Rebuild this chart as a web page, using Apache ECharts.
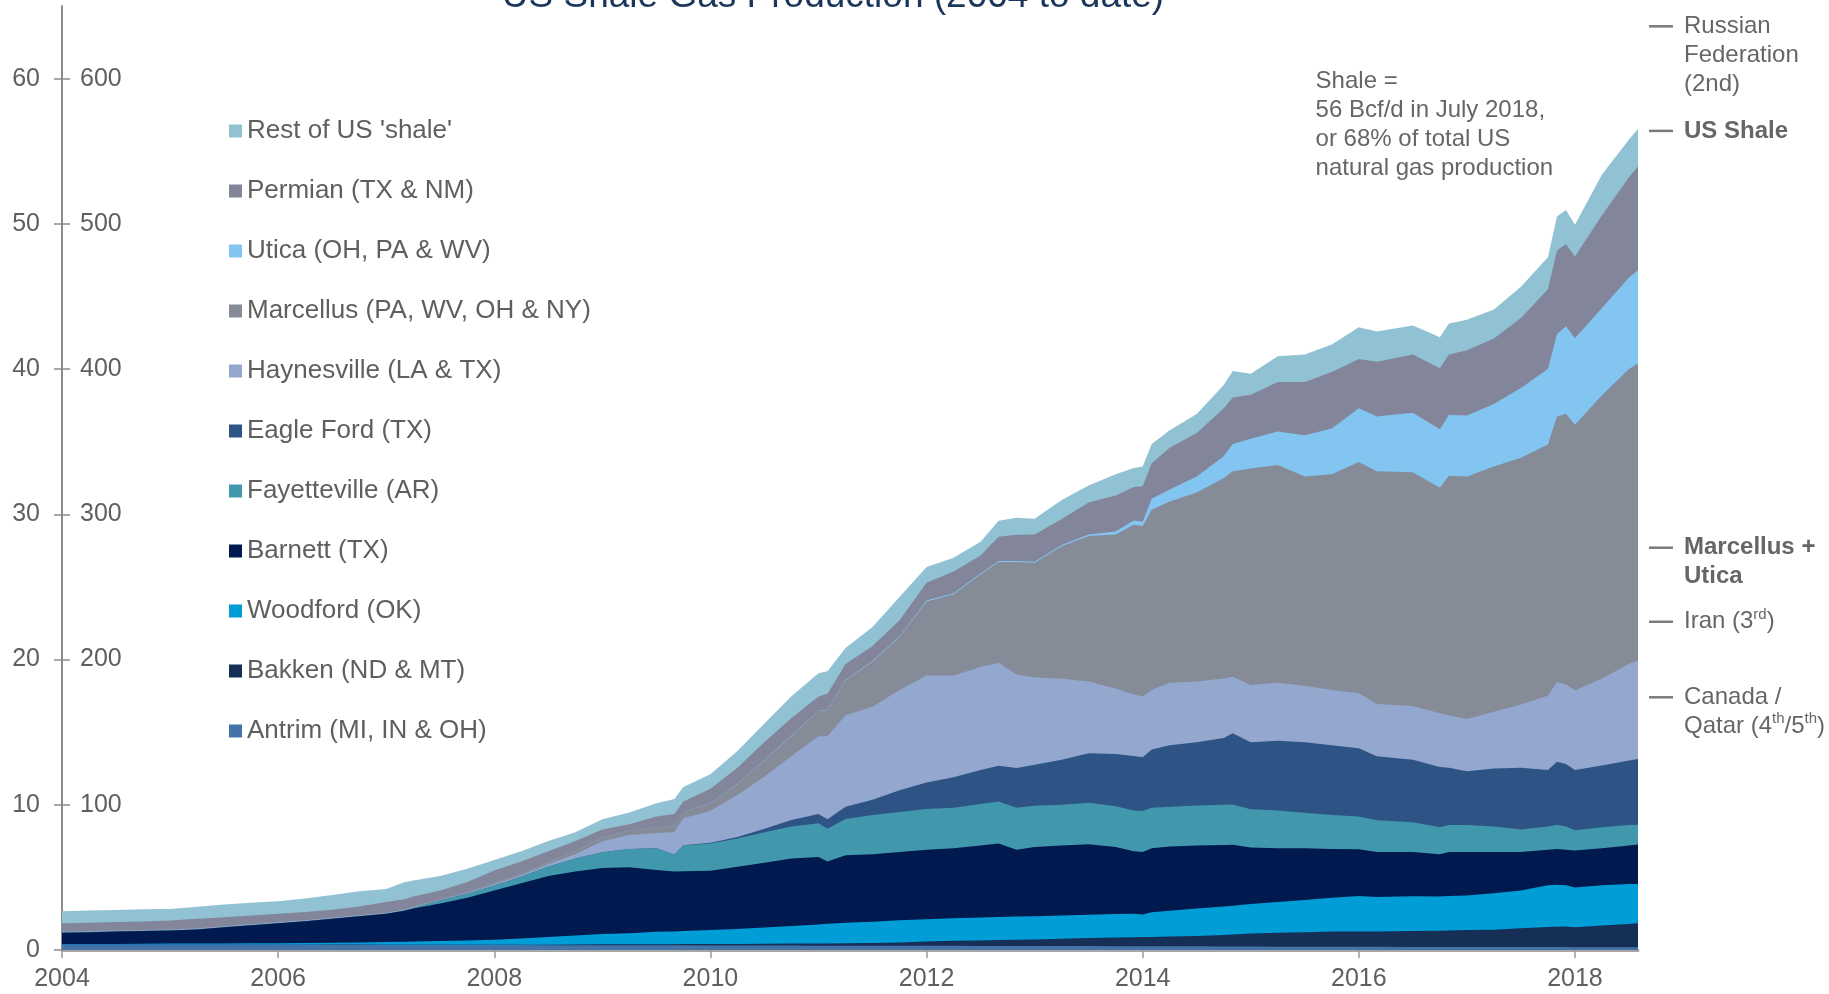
<!DOCTYPE html>
<html>
<head>
<meta charset="utf-8">
<script src="https://cdn.jsdelivr.net/npm/echarts@6/dist/echarts.min.js"></script>
<style>html,body{margin:0;padding:0;background:#fff}#c{width:1829px;height:994px}</style>
</head>
<body>
<div id="c"></div>
<script>
// ---- data (Bcf/d) ----
const months = [
'2004-01','2004-04','2004-07','2004-10',
'2005-01','2005-04','2005-07','2005-10',
'2006-01','2006-04','2006-07','2006-10',
'2007-01','2007-03','2007-04','2007-07','2007-10',
'2008-01','2008-04','2008-07','2008-10',
'2009-01','2009-04','2009-07','2009-09','2009-10',
'2010-01','2010-04','2010-07','2010-10',
'2011-01','2011-02','2011-04','2011-07','2011-10',
'2012-01','2012-04','2012-07','2012-09','2012-11',
'2013-01','2013-04','2013-07','2013-10','2013-12',
'2014-01','2014-02','2014-04','2014-07','2014-10','2014-11',
'2015-01','2015-04','2015-07','2015-10',
'2016-01','2016-03','2016-07','2016-10','2016-11',
'2017-01','2017-04','2017-07','2017-10','2017-11','2017-12',
'2018-01','2018-04','2018-07','2018-08'];

const antrim = [
.36,.36,.36,.36, .36,.36,.36,.36, .36,.36,.36,.36, .35,.35,.35,.35,.34,
.34,.34,.33,.33, .33,.33,.32,.32,.32, .31,.31,.31,.31, .30,.30,.30,.30,.29,
.29,.29,.28,.28,.28, .27,.27,.27,.26,.26, .26,.25,.25,.25,.24,.24,
.24,.23,.23,.22, .22,.22,.21,.21,.21, .21,.20,.20,.20,.20,.20, .19,.19,.19,.19];
const bakken = [
0,0,0,.01, .01,.01,.01,.01, .01,.01,.02,.02, .02,.02,.02,.02,.02,
.03,.03,.04,.05, .06,.07,.07,.08,.09, .10,.11,.12,.13, .15,.15,.17,.19,.22,
.30,.34,.38,.40,.42, .45,.50,.55,.60,.62, .63,.65,.68,.72,.80,.82,
.90,.95,1.00,1.05, 1.05,1.06,1.10,1.12,1.14, 1.16,1.20,1.30,1.38,1.40,1.42, 1.38,1.50,1.60,1.65];
const woodford = [
.05,.06,.06,.06, .07,.07,.08,.09, .10,.11,.12,.14, .18,.20,.21,.25,.30,
.33,.43,.53,.62, .71,.75,.86,.87,.89, .96,1.03,1.12,1.21, 1.30,1.35,1.40,1.46,1.54,
1.53,1.55,1.57,1.59,1.60, 1.60,1.61,1.61,1.62,1.62, 1.56,1.70,1.77,1.88,1.96,1.99,
2.02,2.12,2.22,2.33, 2.45,2.37,2.39,2.35,2.37, 2.38,2.50,2.60,2.87,2.90,2.83, 2.73,2.76,2.76,2.71];
const barnett = [
.77,.80,.85,.87, .90,.98,1.12,1.24, 1.38,1.50,1.65,1.81, 1.95,2.13,2.27,2.58,2.94,
3.40,3.80,4.20,4.40, 4.55,4.55,4.25,4.13,4.12, 4.08,4.29,4.45,4.65, 4.66,4.29,4.65,4.65,4.70,
4.78,4.82,4.97,5.06,4.60, 4.78,4.82,4.85,4.62,4.30, 4.29,4.40,4.42,4.35,4.23,4.20,
3.89,3.70,3.55,3.35, 3.21,3.09,3.04,2.92,3.02, 2.99,2.85,2.64,2.45,2.45,2.45, 2.55,2.55,2.65,2.72];
const fayetteville = [
0,0,0,0, 0,0,0,0, 0,0,0,0, 0,0,.05,.20,.28,
.34,.45,.65,.90, 1.08,1.26,1.50,1.17,1.77, 1.88,1.94,2.10,2.20, 2.31,2.26,2.50,2.70,2.75,
2.81,2.80,2.85,2.90,2.89, 2.84,2.80,2.86,2.80,2.80, 2.83,2.80,2.75,2.75,2.77,2.77,
2.65,2.60,2.45,2.35, 2.27,2.19,2.06,1.85,1.86, 1.86,1.75,1.56,1.60,1.68,1.60, 1.40,1.45,1.40,1.36];
const eagleFord = [
0,0,0,0, 0,0,0,0, 0,0,0,0, 0,0,0,0,0,
0,0,0,0, 0,0,0,0,.02, .05,.10,.25,.45, .64,.66,.85,1.05,1.50,
1.82,2.10,2.35,2.46,2.75, 2.81,3.10,3.41,3.60,3.75, 3.70,4.00,4.23,4.35,4.60,4.91,
4.60,4.80,4.85,4.80, 4.70,4.41,4.30,4.15,3.95, 3.70,4.00,4.25,3.90,4.34,4.30, 4.15,4.25,4.45,4.52];
const haynesville = [
.05,.05,.05,.05, .05,.05,.05,.05, .05,.05,.05,.05, .05,.05,.05,.05,.05,
.08,.10,.15,.30, .75,.95,1.05,1.55,1.86, 2.20,2.90,3.60,4.40, 5.35,5.70,6.30,6.40,6.90,
7.37,7.00,7.09,7.09,6.43, 6.02,5.58,4.93,4.50,4.25, 4.19,4.10,4.30,4.18,4.10,3.88,
3.95,4.00,3.90,3.80, 3.78,3.59,3.70,3.70,3.62, 3.60,3.90,4.35,5.10,5.46,5.50, 5.47,6.00,6.65,6.79];
const marcellus = [
.02,.02,.02,.02, .02,.02,.02,.02, .02,.02,.02,.02, .02,.02,.02,.02,.05,
.10,.12,.15,.20, .30,.30,.40,.40,.45, .50,.75,1.10,1.40, 1.74,1.80,2.40,3.10,3.65,
5.10,5.60,6.37,6.94,7.75, 7.90,9.12,10.03,10.61,11.68, 11.73,12.42,12.48,13.02,13.80,14.15,
14.90,15.00,14.40,14.85, 15.92,16.03,16.10,15.53,16.49, 16.70,16.90,17.00,17.30,18.30,18.62, 18.30,19.50,20.30,20.45];
const utica = [
0,0,0,0, 0,0,0,0, 0,0,0,0, 0,0,0,0,0,
0,0,0,0, 0,0,0,0,0, .02,.02,.03,.03, .03,.03,.04,.05,.05,
.06,.06,.06,.06,.06, .07,.08,.10,.20,.30, .29,.75,.83,1.10,1.50,1.88,
2.05,2.30,2.85,3.15, 3.70,3.77,4.10,4.03,4.18, 4.20,4.30,4.80,5.20,5.66,6.03, 5.95,6.00,6.30,6.41];
const permian = [
.60,.59,.58,.60, .62,.66,.62,.60, .57,.57,.56,.60, .73,.73,.72,.62,.71,
.85,.83,.75,.70, .52,.45,.75,.85,.70, 1.00,1.10,1.25,1.20, .98,1.10,1.09,1.04,1.10,
1.22,1.50,1.24,1.68,1.82, 1.87,1.80,2.21,2.49,2.30, 2.46,2.45,2.87,3.00,3.30,3.21,
3.04,3.41,3.66,3.90, 3.39,3.77,4.00,4.19,4.16, 4.50,4.50,4.82,5.50,5.77,5.66, 5.63,6.40,6.90,7.17];
const restOfUS = [
.82,.84,.84,.83, .80,.83,.87,.88, .87,.93,1.00,1.05, .90,1.17,1.10,1.00,.90,
.73,.70,.70,.60, .70,.80,.90,1.03,1.00, 1.00,1.15,1.27,1.50, 1.60,1.55,1.10,1.30,1.60,
1.10,.95,.95,1.10,1.16, 1.09,1.31,1.16,1.45,1.30, 1.36,1.32,1.21,1.30,1.60,1.81,
1.43,1.77,1.89,1.90, 2.19,2.08,2.00,2.15,2.14, 2.10,2.00,2.15,2.20,2.34,2.34, 2.18,2.80,2.60,2.56];

// bottom -> top stacking order
const seriesNames = ['Antrim (MI, IN & OH)','Bakken (ND & MT)','Woodford (OK)','Barnett (TX)',
  'Fayetteville (AR)','Eagle Ford (TX)','Haynesville (LA & TX)','Marcellus (PA, WV, OH & NY)',
  'Utica (OH, PA & WV)','Permian (TX & NM)',"Rest of US 'shale'"];
const seriesData = [antrim,bakken,woodford,barnett,fayetteville,eagleFord,haynesville,marcellus,utica,permian,restOfUS];
const seriesColors = ['#4572a7','#152f57','#009dd6','#001a4f','#4198ad','#2e5486','#94a8cf','#868b98','#83c5f1','#83869b','#91c2d4'];

const yearTicks = [2004,2006,2008,2010,2012,2014,2016,2018];
const leftTicks = [0,10,20,30,40,50,60];
const innerTicks = [10,20,30,40,50,60];

const markers = [
  {v:63.6, t:'Russian\nFederation\n(2nd)'},
  {v:56.4, t:'{b|US Shale}'},
  {v:27.7, t:'{b|Marcellus +}\n{b|Utica}'},
  {v:22.6, t:'Iran (3{s|rd})'},
  {v:17.4, t:'Canada /\nQatar (4{s|th}/5{s|th})'}
];
const noteText = 'Shale =\n56 Bcf/d in July 2018,\nor 68% of total US\nnatural gas production';
const titleText = 'US Shale Gas Production (2004 to date)';

// ---- chart ----
const FONT = "'Liberation Sans', Arial, sans-serif";
const GREY_TXT = '#5f5f5f';
const xs = months.map(m => { const [y, mo] = m.split('-').map(Number); return y + (mo - 1) / 12; });
const xMax = xs[xs.length - 1];

// running totals (each band is drawn as the area under its cumulative top;
// upper bands are drawn first so each lower band covers the part below it)
const cum = [];
seriesData.forEach((arr, k) => {
  cum.push(arr.map((v, i) => +((k ? cum[k - 1][i] : 0) + v).toFixed(3)));
});

const order = seriesNames.map((_, k) => k).reverse();

const chart = echarts.init(document.getElementById('c'));
const option = {
  animation: false,
  backgroundColor: '#fff',
  grid: {left: 62, right: 191, top: 6, bottom: 44, containLabel: false, outerBoundsMode: 'none'},
  legend: {
    orient: 'vertical', left: 224, top: 113, itemWidth: 13, itemHeight: 13, itemGap: 34,
    icon: 'rect', selectedMode: false,
    textStyle: {fontSize: 26, color: GREY_TXT, fontFamily: FONT},
    data: seriesNames.slice().reverse()
  },
  xAxis: {
    type: 'value', min: 2004, max: xMax,
    axisLine: {show: true, lineStyle: {color: '#a6a6a6', width: 3}},
    axisTick: {show: true, length: 8, customValues: yearTicks, lineStyle: {color: '#9a9a9a', width: 1.5}},
    axisLabel: {customValues: yearTicks, margin: 17, fontSize: 25, color: GREY_TXT, fontFamily: FONT,
      formatter: v => (Number.isInteger(v) ? String(v) : '')},
    splitLine: {show: false}
  },
  yAxis: [
    {
      type: 'value', min: 0, max: 65, position: 'left',
      axisLine: {show: true, lineStyle: {color: '#8c8c8c', width: 2}},
      axisTick: {show: true, inside: false, length: 8, customValues: leftTicks, lineStyle: {color: '#8c8c8c', width: 1.5}},
      axisLabel: {customValues: leftTicks, margin: 22, fontSize: 25, color: GREY_TXT, fontFamily: FONT},
      splitLine: {show: false}
    },
    {
      type: 'value', min: 0, max: 65, position: 'left', offset: 0,
      axisLine: {show: false},
      axisTick: {show: true, inside: true, length: 8, customValues: innerTicks, lineStyle: {color: '#8c8c8c', width: 1.5}},
      axisLabel: {inside: true, customValues: innerTicks, margin: 18, fontSize: 25, color: GREY_TXT, fontFamily: FONT,
        formatter: v => String(Math.round(v * 10))},
      splitLine: {show: false}
    }
  ],
  series: order.map((k, j) => ({
    type: 'line', name: seriesNames[k], yAxisIndex: 0,
    data: xs.map((x, i) => [x, cum[k][i]]),
    symbol: 'none', showSymbol: false, smooth: false,
    color: seriesColors[k],
    itemStyle: {color: seriesColors[k]},
    lineStyle: {width: 0, color: seriesColors[k]},
    areaStyle: {color: seriesColors[k], opacity: 1, origin: 'start'},
    z: 2 + j * 0.01,
    emphasis: {disabled: true}, silent: true
  }))
};
chart.setOption(option);

// annotations placed through the chart's own scales
const xRight = chart.convertToPixel({xAxisIndex: 0}, xMax);
const gfx = [];
gfx.push({type: 'text', x: 833, y: -3, silent: true,
  style: {text: titleText, font: '37px ' + FONT, fill: '#1b365d', align: 'center', verticalAlign: 'middle'}});
markers.forEach(m => {
  const y = chart.convertToPixel({yAxisIndex: 0}, m.v);
  gfx.push({type: 'line', silent: true, shape: {x1: xRight + 11, y1: y, x2: xRight + 35, y2: y},
    style: {stroke: '#7a7a7a', lineWidth: 2.5}});
  gfx.push({type: 'text', silent: true, x: xRight + 46, y: y - 14.5,
    style: {text: m.t, fontSize: 24, fontFamily: FONT, fill: '#666', lineHeight: 29, verticalAlign: 'top', align: 'left',
      rich: {
        b: {fontSize: 24, fontFamily: FONT, fontWeight: 'bold', fill: '#666', lineHeight: 29},
        s: {fontSize: 15, fontFamily: FONT, fill: '#666', verticalAlign: 'top', lineHeight: 18}
      }}});
});
const nx = chart.convertToPixel({xAxisIndex: 0}, 2015.6);
const ny = chart.convertToPixel({yAxisIndex: 0}, 59.8);
gfx.push({type: 'text', silent: true, x: nx, y: ny - 14.5,
  style: {text: noteText, fontSize: 24, fontFamily: FONT, fill: '#666', lineHeight: 29, verticalAlign: 'top', align: 'left'}});
chart.setOption({graphic: gfx});
</script>
</body>
</html>
